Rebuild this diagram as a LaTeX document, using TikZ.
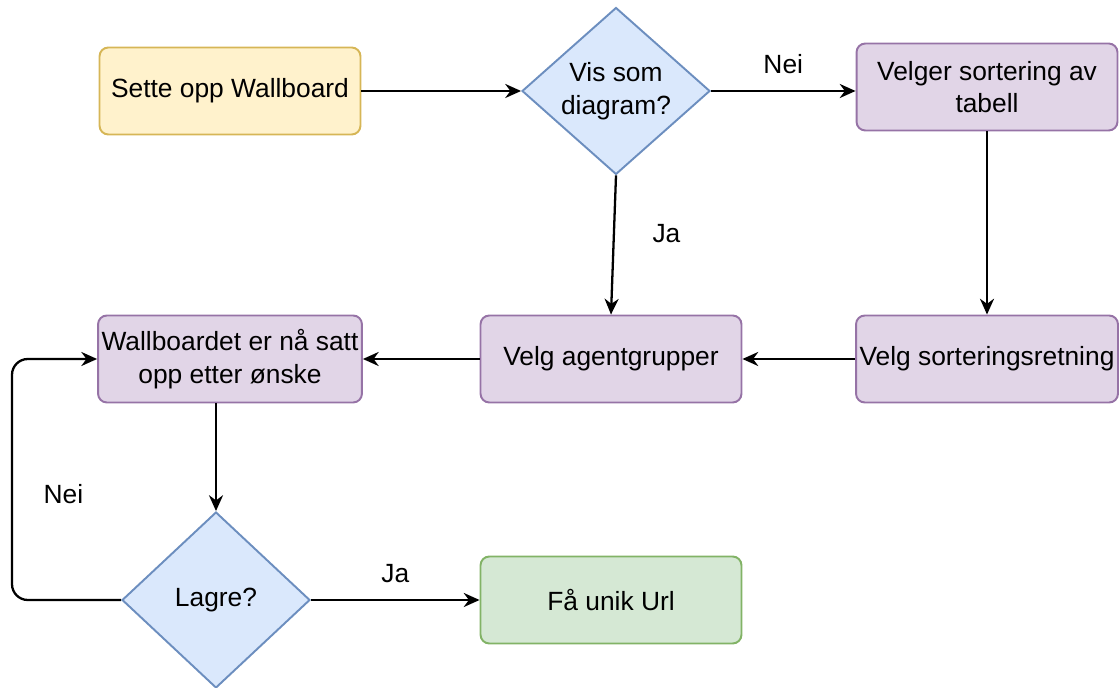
\documentclass[tikz,border=0pt]{standalone}
\usepackage{fontspec}
\setmainfont{Liberation Sans}
\usetikzlibrary{shapes.geometric,arrows.meta}

\definecolor{yelfill}{HTML}{FFF2CC}
\definecolor{yeldraw}{HTML}{D6B656}
\definecolor{bluefill}{HTML}{DAE8FC}
\definecolor{bluedraw}{HTML}{6C8EBF}
\definecolor{purfill}{HTML}{E1D5E7}
\definecolor{purdraw}{HTML}{9673A6}
\definecolor{grnfill}{HTML}{D5E8D4}
\definecolor{grndraw}{HTML}{82B366}

\tikzset{
    box/.style={rectangle, rounded corners=5pt, line width=1.1pt, align=center,
        minimum width=5.22cm, minimum height=1.74cm, inner sep=2pt},
    choice/.style={diamond, draw=bluedraw, fill=bluefill, line width=1.1pt,
        align=center, inner sep=0pt, minimum width=3.76cm},
    flow/.style={line width=1.3pt, -{Stealth[length=9pt,width=8pt]}},
    every node/.style={font=\fontsize{15}{18.5}\selectfont}
}

\begin{document}
\begin{tikzpicture}[x=0.02cm,y=-0.02cm]
    \useasboundingbox (0,0) rectangle (1119,688);
    \node [box, draw=yeldraw, fill=yelfill] (setup) at (230,91) {Sette opp Wallboard};
    \node [choice, minimum height=3.28cm] (showchart) at (616,91) {Vis som\\diagram?};
    \node [box, draw=purdraw, fill=purfill] (tablesort) at (987,87) {Velger sortering av\\tabell};
    \node [box, draw=purdraw, fill=purfill] (sortdir) at (987,359) {Velg sorteringsretning};
    \node [box, draw=purdraw, fill=purfill] (agents) at (611,359) {Velg agentgrupper};
    \node [box, draw=purdraw, fill=purfill] (done) at (230,359) {Wallboardet er nå satt\\opp etter ønske};
    \node [choice, minimum height=3.52cm] (save) at (216,600) {Lagre?};
    \node [box, draw=grndraw, fill=grnfill] (url) at (611,600) {Få unik Url};
    \coordinate (loop) at (12,600);

    \draw [flow] (setup) -- (showchart);
    \draw [flow] (showchart.east) -- (showchart.east -| tablesort.west)
        node [midway, above=6pt] {Nei};
    \draw [flow] (showchart.south) -- (agents.north)
        node [pos=0.42, right=18pt] {Ja};
    \draw [flow] (tablesort) -- (sortdir);
    \draw [flow] (sortdir) -- (agents);
    \draw [flow] (agents) -- (done);
    \draw [flow] (done.south -| save.north) -- (save.north);
    \draw [flow] (save) -- (url)
        node [midway, above=6pt] {Ja};
    \draw [flow, rounded corners=9pt] (save.west) -- (loop) |- (done.west)
        node [pos=0.22, right=14pt] {Nei};
\end{tikzpicture}
\end{document}
